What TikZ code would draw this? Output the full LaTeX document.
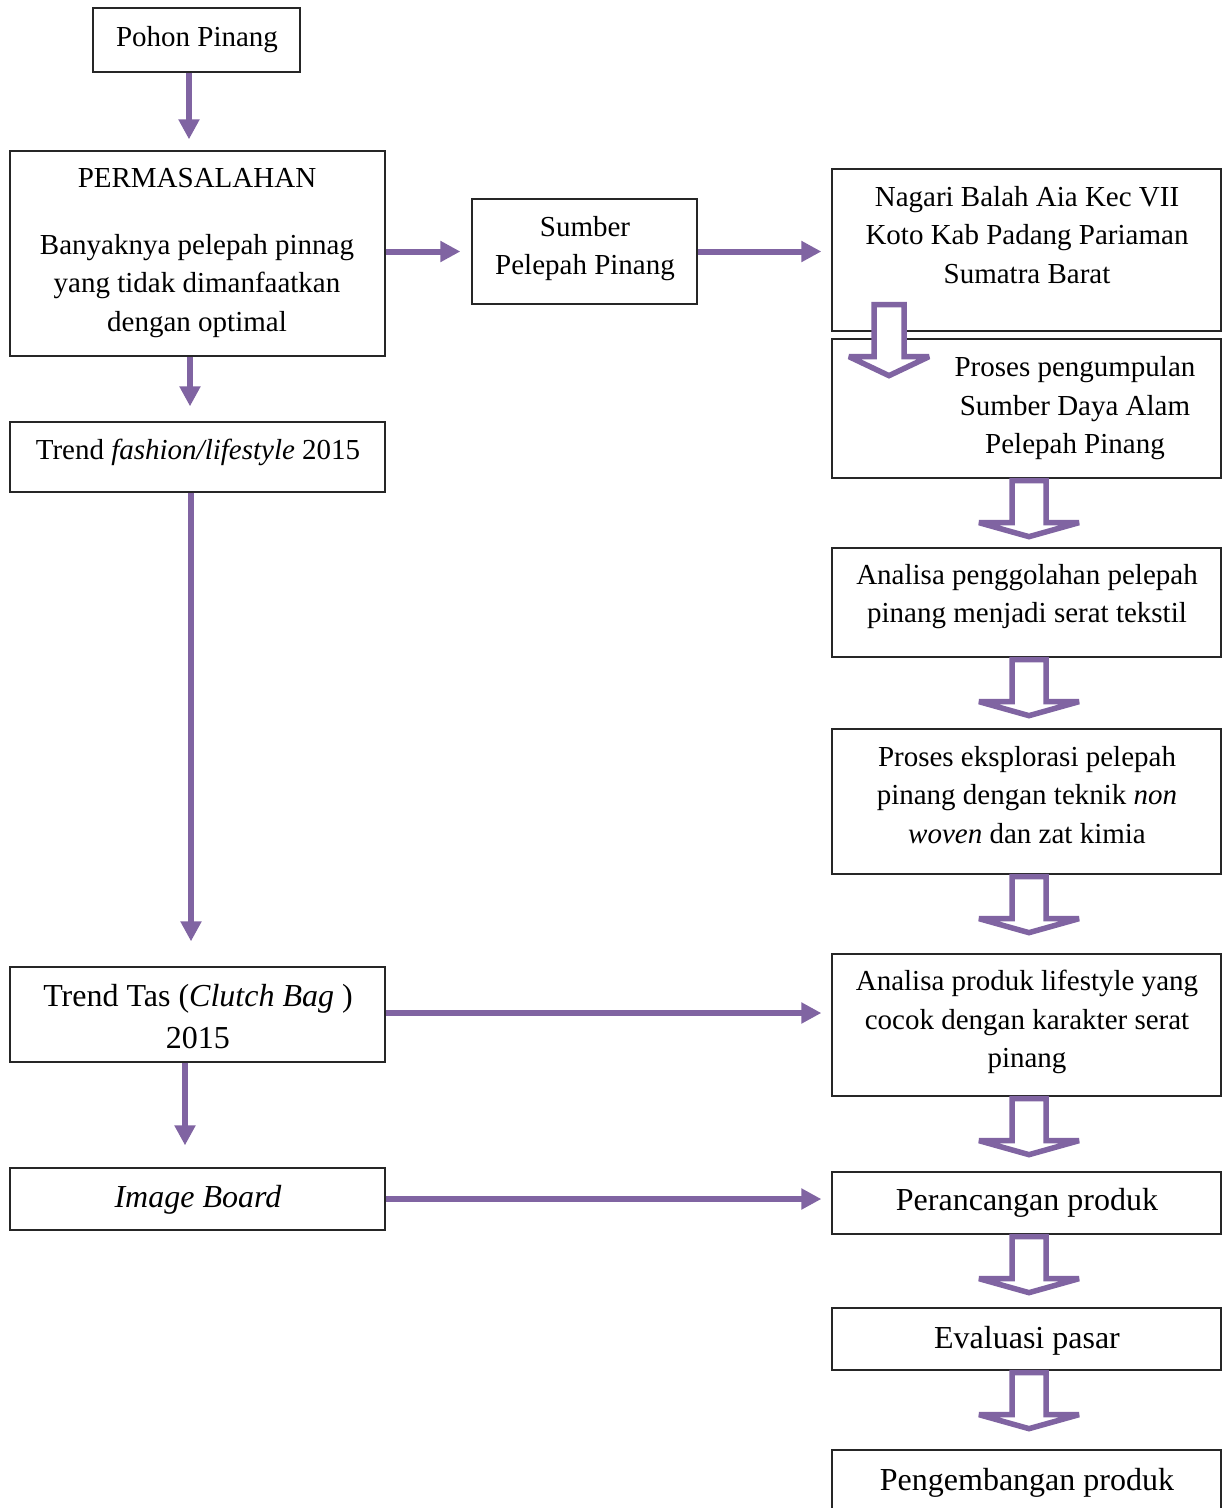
\documentclass[tikz,border=0pt]{standalone}
\usepackage{fontspec}
\setmainfont{Liberation Serif}
\usetikzlibrary{arrows.meta,calc}
\definecolor{vio}{RGB}{128,100,162}
\newcommand\harrow[6]{%
  \begin{scope}[shift={#1}]
    \draw[hollow] (-#2,0) -- (#2,0) -- (#2,#4) -- (#3,#4) -- (0,#5) -- (-#3,#4) -- (-#2,#4) -- cycle;
  \end{scope}}
\begin{document}
\begin{tikzpicture}[x=1pt,y=-1pt,
  box/.style={draw=black!85, line width=1.3pt, inner sep=0pt},
  txt/.style={align=center, inner sep=0pt, font=\fontsize{29}{38.5}\selectfont},
  txtb/.style={align=center, inner sep=0pt, font=\fontsize{32}{42}\selectfont},
  arr/.style={draw=vio, line width=6pt, -{Triangle[length=20pt,width=20pt]}},
  hollow/.style={draw=vio, fill=white, line width=5.5pt, line join=miter, miter limit=4}]
\useasboundingbox (0,0) rectangle (1229,1508);
\clip (0,0) rectangle (1229,1508);
\fill[white] (0,0) rectangle (1229,1508);

% left column boxes
\node[box, minimum width=207, minimum height=64] (pohon) at (196.5,40) {};
\node[box, minimum width=375, minimum height=205] (perm) at (197.5,253.5) {};
\node[box, minimum width=375, minimum height=70] (trendf) at (197.5,457) {};
\node[box, minimum width=375, minimum height=95] (trendt) at (197.5,1014.5) {};
\node[box, minimum width=375, minimum height=62] (image) at (197.5,1199) {};
% middle
\node[box, minimum width=225, minimum height=105] (sumber) at (584.5,251.5) {};
% right column
\node[box, minimum width=389, minimum height=162] (nagari) at (1026.5,250) {};
\node[box, minimum width=389, minimum height=139] (proses) at (1026.5,408.5) {};
\node[box, minimum width=389, minimum height=109] (anal1) at (1026.5,602.5) {};
\node[box, minimum width=389, minimum height=145] (eksp) at (1026.5,801.5) {};
\node[box, minimum width=389, minimum height=142] (anal2) at (1026.5,1025) {};
\node[box, minimum width=389, minimum height=62] (peranc) at (1026.5,1203) {};
\node[box, minimum width=389, minimum height=62] (eval) at (1026.5,1339) {};
\node[box, minimum width=389, minimum height=62] (pengemb) at (1026.5,1481) {};

% texts
\node[txt] (t-pohon) at (197,40) {Pohon Pinang};
\node[txt] (t-perm) at (197,253) {PERMASALAHAN\\[28.5pt]Banyaknya pelepah pinnag\\yang tidak dimanfaatkan\\dengan optimal};
\node[txt] (t-trendf) at (198,452) {Trend \textit{fashion/lifestyle} 2015};
\node[txtb] (t-trendt) at (198,1017) {Trend Tas (\textit{Clutch Bag} )\\2015};
\node[txtb] (t-image) at (198,1200) {\textit{Image Board}};
\node[txt] (t-sumber) at (585,248.5) {Sumber\\Pelepah Pinang};
\node[txt] (t-nagari) at (1027,235) {Nagari Balah Aia Kec VII\\Koto Kab Padang Pariaman\\Sumatra Barat};
\node[txt] (t-proses) at (1075,408.5) {Proses pengumpulan\\Sumber Daya Alam\\Pelepah Pinang};
\node[txt] (t-anal1) at (1027,596.5) {Analisa penggolahan pelepah\\pinang menjadi serat tekstil};
\node[txt] (t-eksp) at (1027,795) {Proses eksplorasi pelepah\\pinang dengan teknik \textit{non}\\\textit{woven} dan zat kimia};
\node[txt] (t-anal2) at (1027,1022) {Analisa produk lifestyle yang\\cocok dengan karakter serat\\pinang};
\node[txtb] (t-peranc) at (1027,1203) {Perancangan produk};
\node[txtb] (t-eval) at (1027,1341) {Evaluasi pasar};
\node[txtb] (t-pengemb) at (1027,1483) {Pengembangan produk};

% solid arrows
\coordinate (tt) at ([yshift=1.5pt]trendt.east);
\draw[arr, shorten >=11pt] ([xshift=-7.5pt]pohon.south) -- ([xshift=-8.5pt]perm.north);
\draw[arr, shorten >=15pt] ([xshift=-7.5pt]perm.south) -- ([xshift=-7.5pt]trendf.north);
\draw[arr, shorten >=25pt] ([xshift=-6.5pt]trendf.south) -- ([xshift=-6.5pt]trendt.north);
\draw[arr, shorten >=22pt] ([xshift=-12.5pt]trendt.south) -- ([xshift=-12.5pt]image.north);
\draw[arr, shorten >=11pt] (perm.east |- sumber.west) -- (sumber.west);
\draw[arr, shorten >=10pt] (sumber.east) -- (nagari.west |- sumber.east);
\draw[arr, shorten >=10pt] (tt) -- (anal2.west |- tt);
\draw[arr, shorten >=10pt] (image.east) -- (peranc.west |- image.east);

% hollow block arrows
\harrow{($(nagari.south)+(-137.5,-27)$)}{15}{40}{52}{71}{}
\harrow{($(proses.south)+(2.5,2)$)}{17}{50}{42}{56}{}
\harrow{($(anal1.south)+(2.5,2)$)}{17}{50}{42}{56}{}
\harrow{($(eksp.south)+(2.5,2)$)}{17}{50}{42}{56}{}
\harrow{($(anal2.south)+(2.5,2)$)}{17}{50}{42}{56}{}
\harrow{($(peranc.south)+(2.5,2)$)}{17}{50}{42}{56}{}
\harrow{($(eval.south)+(2.5,2)$)}{17}{50}{42}{56}{}
\end{tikzpicture}
\end{document}
